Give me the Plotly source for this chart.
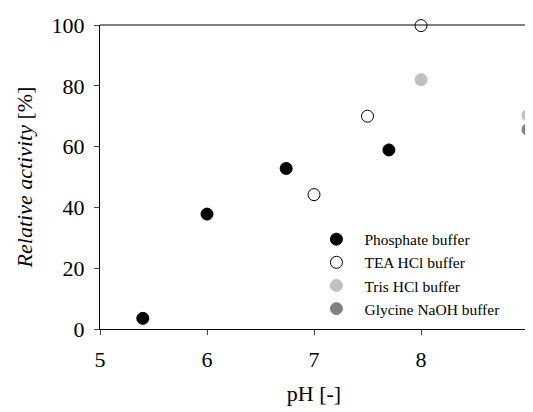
import plotly.graph_objects as go

phosphate_ph = [5.4, 6.0, 6.74, 7.7]
phosphate_act = [3.5, 37.8, 52.8, 58.9]
tea_ph = [7.0, 7.5, 8.0]
tea_act = [44.2, 70.0, 99.8]
tris_ph = [8.0, 9.0]
tris_act = [82.0, 70.3]
gly_ph = [9.0]
gly_act = [65.6]

fig = go.Figure()
serif = "Liberation Serif"

def add(name, xs, ys, color, line_color, group):
    fig.add_trace(go.Scatter(
        x=xs, y=ys, mode="markers", name=name, legendgroup=group,
        cliponaxis=False,
        marker=dict(size=12, color=color, line=dict(color=line_color, width=1)),
    ))

add("Phosphate buffer", phosphate_ph, phosphate_act, "black", "black", "a")
add("TEA HCl buffer", tea_ph, tea_act, "white", "black", "b")
add("Tris HCl buffer", tris_ph, tris_act, "#c0c0c0", "#c0c0c0", "c")
add("Glycine NaOH buffer", gly_ph, gly_act, "#808080", "#808080", "d")

# page body has an 8px margin, so the figure is 8px smaller and shifted
fig.update_layout(
    width=525, height=404,
    margin=dict(l=92, r=5, t=14, b=83),
    paper_bgcolor="white", plot_bgcolor="white",
    font=dict(family=serif, color="black", size=22),
    showlegend=True,
    legend=dict(x=0.487, y=0.35, xanchor="left", yanchor="top",
                font=dict(size=15.5, family=serif, color="black"), bgcolor="rgba(0,0,0,0)",
                tracegroupgap=0, itemwidth=46),
    xaxis=dict(range=[5, 9], tickvals=[5, 6, 7, 8, 9], ticks="outside", ticklen=5,
               showline=True, linecolor="black", linewidth=1, showgrid=False, zeroline=False,
               ticklabelstandoff=6,
               title=dict(text="pH [-]", font=dict(size=22, family=serif, color="black"), standoff=14),
               tickfont=dict(size=22, family=serif, color="black")),
    yaxis=dict(range=[0, 100], tickvals=[0, 20, 40, 60, 80, 100], ticks="outside", ticklen=5,
               showline=True, linecolor="black", linewidth=1, showgrid=False, zeroline=False,
               ticklabelstandoff=5,
               title=dict(text="<i>Relative activity</i> [%]", font=dict(size=22, family=serif, color="black"), standoff=12),
               tickfont=dict(size=22, family=serif, color="black")),
    shapes=[
        dict(type="line", xref="paper", yref="paper", x0=0, x1=1, y0=1, y1=1,
             line=dict(color="black", width=1)),
        dict(type="line", xref="paper", yref="paper", x0=1, x1=1, y0=0, y1=1,
             line=dict(color="#808080", width=1)),
    ],
)

fig.write_html("out.html")
